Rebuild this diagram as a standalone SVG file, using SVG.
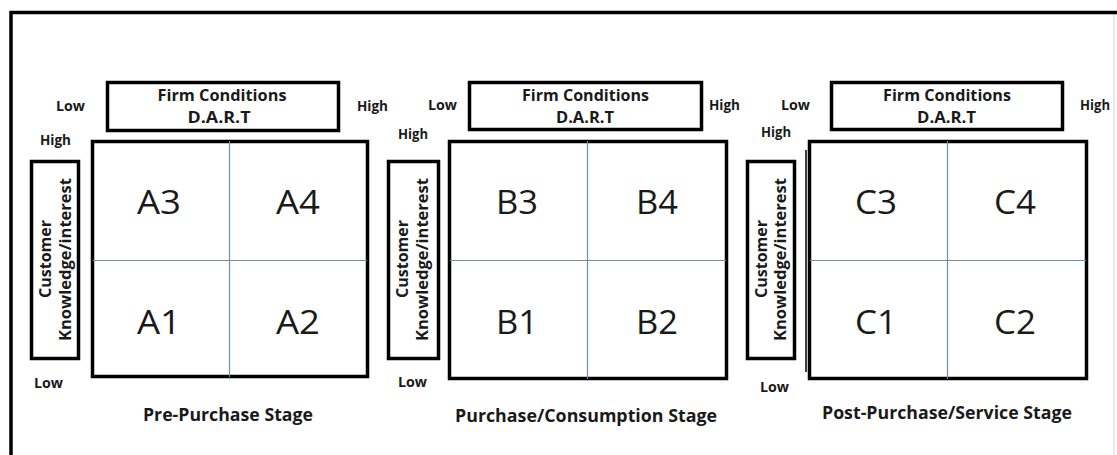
<svg xmlns="http://www.w3.org/2000/svg" width="1117" height="455" viewBox="0 0 1117 455">
<style>
.frame{fill:none;stroke:#000;stroke-width:3.5}
.box{fill:#fff;stroke:#000;stroke-width:3.5}
.grid{stroke:#6f8fae;stroke-width:1.2}
.t{font-family:"Open Sans","Liberation Sans",sans-serif;font-weight:bold;fill:#1a1a1a}
.lbl{font-size:14px}
.hd{font-size:16px;text-anchor:middle}
.cust{font-size:16px;text-anchor:middle}
.stage{font-size:17px;text-anchor:middle}
.cell{font-family:"Open Sans","Liberation Sans",sans-serif;font-size:32px;fill:#1a1a1a;text-anchor:middle}
</style>
<rect width="1117" height="455" fill="#fff"/>
<g id="frame">
<line x1="1114" y1="13" x2="1114" y2="455" stroke="#e2e2e2" stroke-width="1.5"/>
<path class="frame" d="M11 455 V12.5 H1117"/>
</g>

<g id="panel-a">
<rect class="box" x="107.5" y="82.5" width="231" height="48"/>
<text class="t hd" x="222" y="101" textLength="129" lengthAdjust="spacingAndGlyphs">Firm Conditions</text>
<text class="t hd" x="219" y="123" textLength="63" lengthAdjust="spacingAndGlyphs">D.A.R.T</text>
<text class="t lbl" x="56" y="111" textLength="29" lengthAdjust="spacingAndGlyphs">Low</text>
<text class="t lbl" x="357" y="111" textLength="31" lengthAdjust="spacingAndGlyphs">High</text>
<text class="t lbl" x="40" y="145" textLength="31" lengthAdjust="spacingAndGlyphs">High</text>
<text class="t lbl" x="34" y="388" textLength="29" lengthAdjust="spacingAndGlyphs">Low</text>
<rect class="box" x="31.5" y="161.5" width="47" height="197"/>
<text class="t cust" transform="translate(51 259) rotate(-90)" textLength="78" lengthAdjust="spacingAndGlyphs">Customer</text>
<text class="t cust" transform="translate(71 259.5) rotate(-90)" textLength="163" lengthAdjust="spacingAndGlyphs">Knowledge/interest</text>
<rect class="box" x="92.5" y="141.5" width="275" height="235"/>
<line class="grid" x1="229.5" y1="141" x2="229.5" y2="377"/>
<line class="grid" x1="93" y1="260.5" x2="367" y2="260.5"/>
<text class="cell" x="159" y="214" textLength="44" lengthAdjust="spacingAndGlyphs">A3</text>
<text class="cell" x="298" y="214" textLength="44" lengthAdjust="spacingAndGlyphs">A4</text>
<text class="cell" x="159" y="334" textLength="44" lengthAdjust="spacingAndGlyphs">A1</text>
<text class="cell" x="298" y="334" textLength="44" lengthAdjust="spacingAndGlyphs">A2</text>
<text class="t stage" x="228" y="421" textLength="170" lengthAdjust="spacingAndGlyphs">Pre-Purchase Stage</text>
</g>

<g id="panel-b">
<rect class="box" x="469.5" y="82.5" width="232" height="47"/>
<text class="t hd" x="585.5" y="101" textLength="127" lengthAdjust="spacingAndGlyphs">Firm Conditions</text>
<text class="t hd" x="585" y="123" textLength="58" lengthAdjust="spacingAndGlyphs">D.A.R.T</text>
<text class="t lbl" x="428" y="110" textLength="29" lengthAdjust="spacingAndGlyphs">Low</text>
<text class="t lbl" x="709" y="110" textLength="31" lengthAdjust="spacingAndGlyphs">High</text>
<text class="t lbl" x="398" y="139" textLength="30" lengthAdjust="spacingAndGlyphs">High</text>
<text class="t lbl" x="398" y="387" textLength="29" lengthAdjust="spacingAndGlyphs">Low</text>
<rect class="box" x="388.5" y="161.5" width="50" height="197"/>
<text class="t cust" transform="translate(408 259) rotate(-90)" textLength="78" lengthAdjust="spacingAndGlyphs">Customer</text>
<text class="t cust" transform="translate(428 259.5) rotate(-90)" textLength="163" lengthAdjust="spacingAndGlyphs">Knowledge/interest</text>
<rect class="box" x="449.5" y="141.5" width="277" height="237"/>
<line class="grid" x1="587.5" y1="141" x2="587.5" y2="379"/>
<line class="grid" x1="450" y1="260.5" x2="726" y2="260.5"/>
<text class="cell" x="517" y="214" textLength="42" lengthAdjust="spacingAndGlyphs">B3</text>
<text class="cell" x="657" y="214" textLength="42" lengthAdjust="spacingAndGlyphs">B4</text>
<text class="cell" x="517" y="334" textLength="42" lengthAdjust="spacingAndGlyphs">B1</text>
<text class="cell" x="657" y="334" textLength="42" lengthAdjust="spacingAndGlyphs">B2</text>
<text class="t stage" x="586" y="422" textLength="262" lengthAdjust="spacingAndGlyphs">Purchase/Consumption Stage</text>
</g>

<g id="panel-c">
<rect class="box" x="831.5" y="82.5" width="231" height="47"/>
<text class="t hd" x="947" y="101" textLength="128" lengthAdjust="spacingAndGlyphs">Firm Conditions</text>
<text class="t hd" x="946.5" y="123" textLength="59" lengthAdjust="spacingAndGlyphs">D.A.R.T</text>
<text class="t lbl" x="781" y="110" textLength="29" lengthAdjust="spacingAndGlyphs">Low</text>
<text class="t lbl" x="1080" y="110" textLength="30" lengthAdjust="spacingAndGlyphs">High</text>
<text class="t lbl" x="761" y="137" textLength="30" lengthAdjust="spacingAndGlyphs">High</text>
<text class="t lbl" x="760" y="392" textLength="29" lengthAdjust="spacingAndGlyphs">Low</text>
<rect class="box" x="747.5" y="161.5" width="47" height="197"/>
<text class="t cust" transform="translate(767 259) rotate(-90)" textLength="78" lengthAdjust="spacingAndGlyphs">Customer</text>
<text class="t cust" transform="translate(786 259.5) rotate(-90)" textLength="163" lengthAdjust="spacingAndGlyphs">Knowledge/interest</text>
<line x1="806" y1="150" x2="806" y2="372" stroke="#000" stroke-width="1.5"/>
<rect class="box" x="809.5" y="141.5" width="277" height="237" stroke-width="4"/>
<line class="grid" x1="947.5" y1="141" x2="947.5" y2="379"/>
<line class="grid" x1="810" y1="260.5" x2="1086" y2="260.5"/>
<text class="cell" x="876" y="214" textLength="42" lengthAdjust="spacingAndGlyphs">C3</text>
<text class="cell" x="1015" y="214" textLength="42" lengthAdjust="spacingAndGlyphs">C4</text>
<text class="cell" x="876" y="334" textLength="42" lengthAdjust="spacingAndGlyphs">C1</text>
<text class="cell" x="1015" y="334" textLength="42" lengthAdjust="spacingAndGlyphs">C2</text>
<text class="t stage" x="947" y="419" textLength="250" lengthAdjust="spacingAndGlyphs">Post-Purchase/Service Stage</text>
</g>
</svg>
